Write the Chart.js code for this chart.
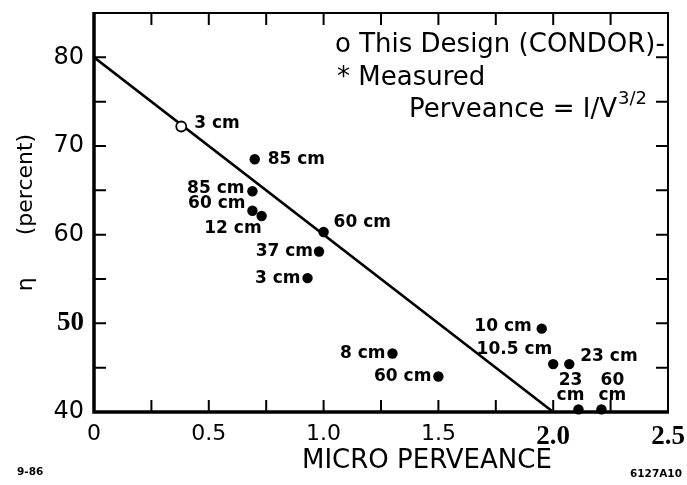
<!DOCTYPE html>
<html>
<head>
<meta charset="utf-8">
<script src="https://cdn.jsdelivr.net/npm/chart.js@4.4.1/dist/chart.umd.min.js"></script>
<style>
  html, body { margin: 0; padding: 0; background: #fff; }
  #wrap { width: 687px; height: 485px; position: relative; }
</style>
</head>
<body>
<div id="wrap"><canvas id="chart"></canvas></div>
<script>
/* ─────────────────────────────────────────
   DATA
───────────────────────────────────────── */
// fitted efficiency line
const fitX = [0, 2.0];
const fitY = [80, 40];

// this design (CONDOR) – open circle
const designX      = [0.38];
const designY      = [72.2];
const designLabels = ['3 cm'];

// measured tubes – filled dots
const measX      = [0.70, 0.69, 0.69, 0.73, 1.00, 0.98, 0.93, 1.30, 1.50, 1.95, 2.00, 2.07, 2.11, 2.21];
const measY      = [68.5, 64.9, 62.7, 62.1, 60.3, 58.1, 55.1, 46.6, 44.0, 49.4, 45.4, 45.4, 40.3, 40.3];
const measLabels = ['85 cm', '85 cm', '60 cm', '12 cm', '60 cm', '37 cm', '3 cm', '8 cm', '60 cm',
                    '10 cm', '10.5 cm', '23 cm', '23\ncm', '60\ncm'];

const xTicks      = [0, 0.5, 1.0, 1.5, 2.0, 2.5];
const yTicks      = [40, 50, 60, 70, 80];
const xMinorTicks = [0.25, 0.5, 0.75, 1.0, 1.25, 1.5, 1.75, 2.0, 2.25];
const yMinorTicks = [45, 50, 55, 60, 65, 70, 75, 80];

/* ─────────────────────────────────────────
   STYLE
───────────────────────────────────────── */
const SANS  = "'DejaVu Sans', sans-serif";
const SERIF = "'Liberation Serif', 'Times New Roman', serif";
const INK   = '#000';

// label placement next to each dot: [dx, dy, align]
const designPlace = [[13, -3, 'left']];
const measPlace = [
  [13, 0, 'left'], [-8, -3, 'right'], [-7, -7, 'right'], [0, 13, 'right'],
  [10, -9, 'left'], [-6, 0, 'right'], [-7, 0, 'right'], [-7, 0, 'right'],
  [-7, 0, 'right'], [-10, -2, 'right'], [-1, -15, 'right'], [11, -8, 'left'],
  [-8, -29, 'center'], [11, -29, 'center'],
];

const toPts = (xs, ys) => xs.map((x, i) => ({ x, y: ys[i] }));

/* ─────────────────────────────────────────
   PLUGIN – frame, inward ticks, labels, texts
───────────────────────────────────────── */
const decor = {
  id: 'decor',
  afterDatasetsDraw(chart) {
    const { ctx, chartArea: a, scales: { x, y } } = chart;
    ctx.save();
    ctx.strokeStyle = INK;
    ctx.fillStyle = INK;

    // frame
    ctx.lineWidth = 2;
    ctx.beginPath();
    ctx.moveTo(a.left, a.top); ctx.lineTo(a.right, a.top); ctx.lineTo(a.right, a.bottom);
    ctx.stroke();
    ctx.lineWidth = 3.5;
    ctx.beginPath();
    ctx.moveTo(a.left, a.top - 1); ctx.lineTo(a.left, a.bottom); ctx.lineTo(a.right + 1, a.bottom);
    ctx.stroke();

    // inward ticks
    ctx.lineWidth = 2;
    const TL = 12;
    ctx.beginPath();
    xMinorTicks.forEach(v => {
      const px = x.getPixelForValue(v);
      ctx.moveTo(px, a.bottom); ctx.lineTo(px, a.bottom - TL);
      ctx.moveTo(px, a.top);    ctx.lineTo(px, a.top + TL);
    });
    yMinorTicks.forEach(v => {
      const py = y.getPixelForValue(v);
      ctx.moveTo(a.left, py);  ctx.lineTo(a.left + TL, py);
      ctx.moveTo(a.right, py); ctx.lineTo(a.right - TL, py);
    });
    ctx.stroke();

    // point labels
    ctx.font = `bold 17px ${SANS}`;
    ctx.textBaseline = 'middle';
    const drawLabels = (dsIndex, labels, place) => {
      const meta = chart.getDatasetMeta(dsIndex);
      meta.data.forEach((el, i) => {
        const [dx, dy, align] = place[i];
        ctx.textAlign = align;
        labels[i].split('\n').forEach((line, k) => {
          ctx.fillText(line, el.x + dx, el.y + dy + k * 15);
        });
      });
    };
    drawLabels(0, designLabels, designPlace);
    drawLabels(1, measLabels, measPlace);

    // key text
    ctx.textAlign = 'left';
    ctx.font = `26px ${SANS}`;
    ctx.fillText('o This Design (CONDOR)-', a.left + 241, 45);
    ctx.fillText('* Measured', a.left + 243, 78);
    const pTxt = 'Perveance = I/V';
    ctx.fillText(pTxt, a.left + 315, 110);
    const pw = ctx.measureText(pTxt).width;
    ctx.font = `18px ${SANS}`;
    ctx.fillText('3/2', a.left + 315 + pw + 1, 99);

    // x title
    ctx.textAlign = 'center';
    ctx.font = `26px ${SANS}`;
    ctx.fillText('MICRO PERVEANCE', x.getPixelForValue(1.45), 461);

    // corner ids
    ctx.font = `bold 10.5px ${SANS}`;
    ctx.textAlign = 'left';
    ctx.fillText('9-86', 17, 472);
    ctx.fillText('6127A10', 630, 474);
    ctx.restore();
  },
};

/* ─────────────────────────────────────────
   CHART
───────────────────────────────────────── */
const noPad = s => { s.paddingTop = 0; s.paddingBottom = 0; s.paddingLeft = 0; s.paddingRight = 0; };

new Chart(document.getElementById('chart'), {
  type: 'scatter',
  data: {
    datasets: [
      {
        label: 'This Design (CONDOR)',
        data: toPts(designX, designY),
        pointRadius: 5, pointHoverRadius: 5,
        backgroundColor: '#fff', borderColor: INK, borderWidth: 1.8,
      },
      {
        label: 'Measured',
        data: toPts(measX, measY),
        pointRadius: 5.2, pointHoverRadius: 5.2,
        backgroundColor: INK, borderColor: INK, borderWidth: 0,
        clip: false,
      },
      {
        type: 'line',
        label: 'fit',
        data: toPts(fitX, fitY),
        borderColor: INK, borderWidth: 2.6,
        pointRadius: 0, tension: 0, fill: false,
      },
    ],
  },
  options: {
    responsive: true, maintainAspectRatio: false,
    animation: false,
    layout: { padding: { top: 13, right: 19, left: 0, bottom: 0 } },
    plugins: { legend: { display: false }, tooltip: { enabled: false } },
    scales: {
      x: {
        type: 'linear', min: 0, max: 2.5,
        afterBuildTicks: s => { s.ticks = xTicks.map(v => ({ value: v })); },
        afterFit: s => { s.height = 73; noPad(s); },
        grid: { display: false, drawTicks: false },
        border: { display: false },
        ticks: {
          color: INK, padding: 9,
          callback: v => (v === 0 ? '0' : v.toFixed(1)),
          font: c => (c.tick && c.tick.value >= 2
            ? { family: SERIF, size: 27, weight: 'bold' }
            : { family: SANS, size: 22 }),
        },
      },
      y: {
        type: 'linear', min: 40, max: 85,
        afterBuildTicks: s => { s.ticks = yTicks.map(v => ({ value: v })); },
        afterFit: s => { s.width = 94; noPad(s); },
        grid: { display: false, drawTicks: false },
        border: { display: false },
        title: {
          display: true, text: 'η      (percent)', color: INK,
          font: { family: SANS, size: 22 }, padding: { top: 13, bottom: 0 },
        },
        ticks: {
          color: INK, padding: 10,
          font: c => (c.tick && c.tick.value === 50
            ? { family: SERIF, size: 27, weight: 'bold' }
            : { family: SANS, size: 24 }),
        },
      },
    },
  },
  plugins: [decor],
});
</script>
</body>
</html>
